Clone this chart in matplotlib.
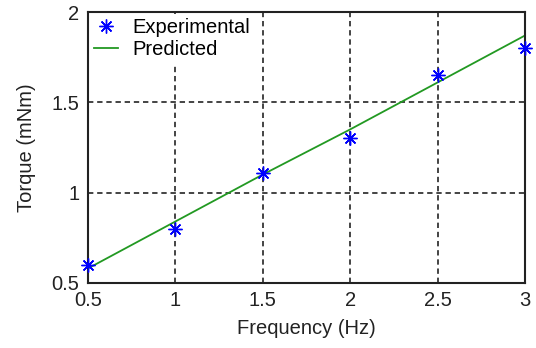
import numpy as np
import matplotlib
matplotlib.use('Agg')
import matplotlib.pyplot as plt

#-------------------------------------------------------------------------------------
freq = [0.5, 1.0, 1.5, 2.0, 2.5, 3.0]
torque_exp = [0.60, 0.80, 1.11, 1.30, 1.65, 1.80]
torque_pred = [0.58, 0.84, 1.10, 1.35, 1.61, 1.87]
xticks = [0.5, 1, 1.5, 2, 2.5, 3]
yticks = [0.5, 1, 1.5, 2]

#-------------------------------------------------------------------------------------
plt.rcParams['font.family'] = ['Liberation Sans', 'DejaVu Sans']
fig = plt.figure(figsize=(5.36, 3.48), dpi=100)
ax = fig.add_axes([0.164, 0.187, 0.8155, 0.7785])

ax.plot(freq, torque_exp, linestyle='none', marker=(8, 2, 0), markersize=10,
        markeredgewidth=1.0, color='#0000ff', label='Experimental', clip_on=False,
        zorder=4)
ax.plot(freq, torque_pred, color='#229922', linewidth=1.3, label='Predicted')

ax.set_xlim(0.5, 3)
ax.set_ylim(0.5, 2)
ax.set_xticks(xticks)
ax.set_xticklabels(['0.5', '1', '1.5', '2', '2.5', '3'])
ax.set_yticks(yticks)
ax.set_yticklabels(['0.5', '1', '1.5', '2'])
ax.tick_params(labelsize=14.5, length=0, pad=6, colors='#222222')
ax.grid(True, color='#111111', linestyle=(0, (3.5, 2.5)), linewidth=1.1)
for s in ax.spines.values():
    s.set_linewidth(1.5)
    s.set_color('#222222')

ax.set_xlabel('Frequency (Hz)', fontsize=14.5, labelpad=6, color='#222222')
ax.set_ylabel('Torque (mNm)', fontsize=14.5, labelpad=11, color='#222222')

leg = ax.legend(loc='upper left', fontsize=14.5, frameon=True, borderaxespad=0.1,
                handlelength=1.2, handletextpad=0.7, labelspacing=0.15,
                borderpad=0.2)
leg.get_frame().set_edgecolor('none')
leg.get_frame().set_alpha(1)

fig.savefig('out.png', dpi=100)
